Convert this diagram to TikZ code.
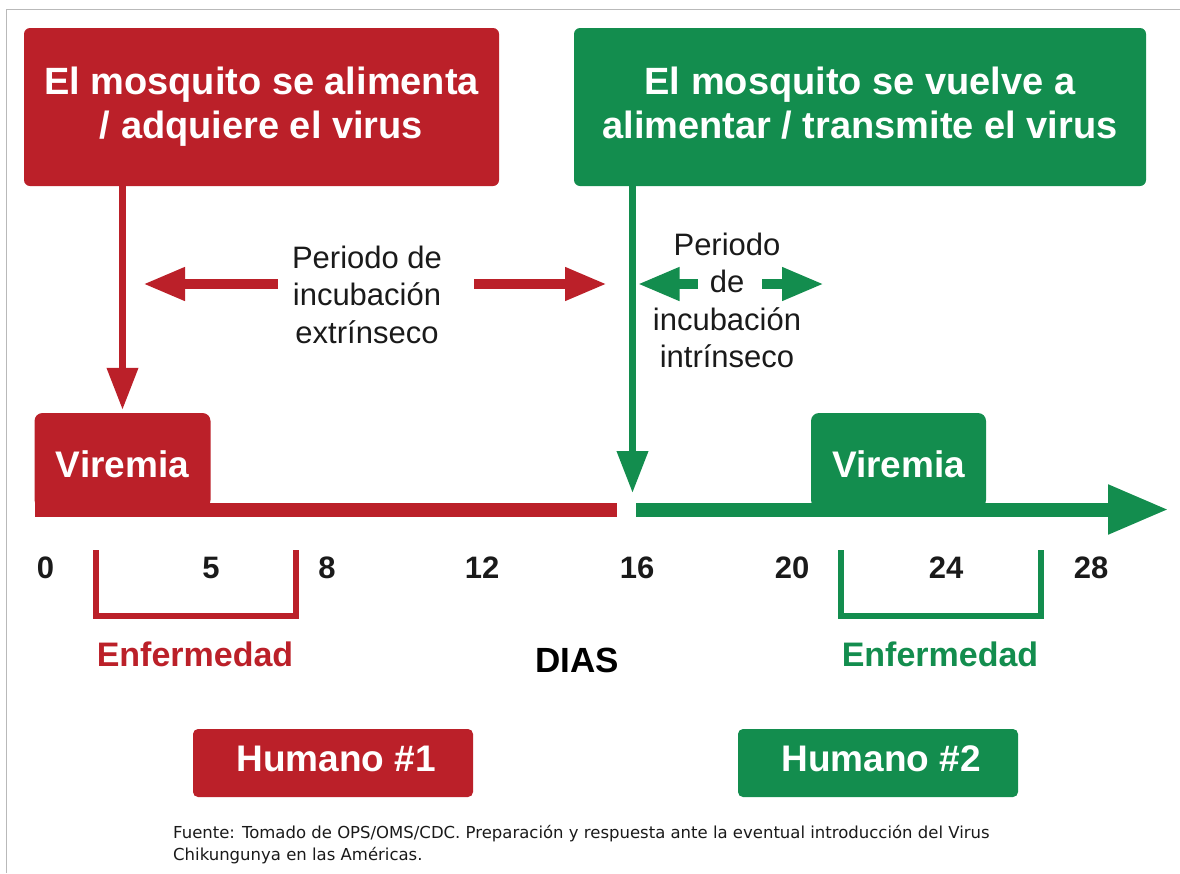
\documentclass[tikz,border=0pt]{standalone}
\usepackage{fontspec}
\setmainfont{Liberation Sans}
\newfontfamily\notefont{DejaVu Sans}
\usetikzlibrary{arrows.meta,calc}
\definecolor{cred}{RGB}{187,32,41}
\definecolor{cgreen}{RGB}{19,141,78}
\definecolor{ctext}{RGB}{26,26,26}
\definecolor{cframe}{RGB}{185,185,185}
\begin{document}
\begin{tikzpicture}[x=1pt,y=-1pt,
  topbox/.style={rounded corners=6pt, minimum height=158pt, inner sep=0pt,
    text=white, align=center, font=\fontsize{38}{44}\selectfont\bfseries},
  vbox/.style={rounded corners=8pt, minimum width=176pt, minimum height=95pt, inner sep=0pt},
  vtext/.style={anchor=base, text=white, inner sep=0pt, font=\fontsize{37}{40}\selectfont\bfseries},
  humbox/.style={rounded corners=5pt, minimum width=280pt, minimum height=68pt, inner sep=0pt},
  humtext/.style={anchor=base, text=white, inner sep=0pt, font=\fontsize{37}{40}\selectfont\bfseries},
  tick/.style={anchor=base, text=ctext, inner sep=0pt, font=\fontsize{31}{34}\selectfont\bfseries},
  enf/.style={anchor=base, inner sep=0pt, font=\fontsize{34}{38}\selectfont\bfseries},
  period/.style={align=center, text=ctext, inner sep=0pt, font=\fontsize{31}{37.6}\selectfont},
  vline/.style={line width=7pt, -{Triangle[length=42pt,width=30pt]}},
  harr/.style={line width=10pt, -{Triangle[length=42pt,width=31pt]}},
  bracket/.style={line width=6pt, line join=miter}
]
\useasboundingbox (0,0) rectangle (1180,873);
% frame
\draw[cframe, line width=1.5pt] (6.5,873) -- (6.5,9.5) -- (1180,9.5);

% top boxes
\node[topbox, fill=cred, minimum width=475pt] (redtop) at (261.5,107)
  {El mosquito se alimenta\\ / adquiere el virus};
\node[topbox, fill=cgreen, minimum width=572pt] (greentop) at (860,107)
  {El mosquito se vuelve a\\ alimentar / transmite el virus\vphantom{q}};

% viremia boxes
\node[vbox, fill=cred] (vir1) at (122.5,460.5) {};
\node[vbox, fill=cgreen, minimum width=175pt] (vir2) at (898.5,460.5) {};
\node[vtext] (vir1t) at (122.5,477) {Viremia};
\node[vtext] (vir2t) at (898.5,477) {Viremia};

% axis
\fill[cred] (34.5,502.5) rectangle (617,516.5);
\coordinate (gstart) at (636,509.5);
\coordinate (gend) at (1169,509.5);
\draw[cgreen, line width=14pt, -{Triangle[length=61pt,width=46pt]}] (gstart) -- (gend);

% vertical arrows
\draw[cred, vline, shorten >=3pt] (redtop.south -| vir1.north) -- (vir1.north);
\coordinate (gtip) at (632.5,493);
\draw[cgreen, vline] (greentop.south -| gtip) -- (gtip);

% extrinsic period
\node[period] (ext) at (367,294.7) {Periodo de\\incubación\\extrínseco};
\coordinate (exLs) at (278,284);
\coordinate (exLt) at (143,284);
\coordinate (exRs) at (474,284);
\coordinate (exRt) at (607,284);
\draw[cred, harr] (exLs) -- (exLt);
\draw[cred, harr] (exRs) -- (exRt);

% intrinsic period
\node[period] (int) at (727,300.5) {Periodo\\de\\incubación\\intrínseco};
\coordinate (inLs) at (698,284);
\coordinate (inLt) at (637.5,284);
\coordinate (inRs) at (762,284);
\coordinate (inRt) at (824,284);
\draw[cgreen, harr] (inLs) -- (inLt);
\draw[cgreen, harr] (inRs) -- (inRt);

% tick labels
\node[tick] (t0) at (45.5,578) {0};
\node[tick] (t5) at (211,578) {5};
\node[tick] (t8) at (327,578) {8};
\node[tick] (t12) at (482,578) {12};
\node[tick] (t16) at (637,578) {16};
\node[tick] (t20) at (792,578) {20};
\node[tick] (t24) at (946,578) {24};
\node[tick] (t28) at (1091,578) {28};

% brackets
\coordinate (b1a) at (96,550);
\coordinate (b1b) at (296,550);
\coordinate (b2a) at (841,550);
\coordinate (b2b) at (1040.5,550);
\draw[cred, bracket] (b1a) -- ++(0,66) -| (b1b);
\draw[cgreen, bracket] (b2a) -- ++(0,66) -| (b2b);

\node[enf, text=cred] (enf1) at (195,666) {Enfermedad};
\node[enf, text=cgreen] (enf2) at (940,666) {Enfermedad};
\node[anchor=base, inner sep=0pt, text=black, font=\fontsize{35}{38}\selectfont\bfseries] (dias) at (577,672) {DIAS};

% humano boxes
\node[humbox, fill=cred] (h1) at (333,763) {};
\node[humbox, fill=cgreen] (h2) at (878,763) {};
\node[humtext] (h1t) at (336,771) {Humano \#1};
\node[humtext] (h2t) at (881,771) {Humano \#2};

% footnote
\node[anchor=north west, align=left, inner sep=0pt, text=ctext,
  font=\notefont\fontsize{16.5}{22}\selectfont] (note) at (173,825)
  {Fuente: Tomado de OPS/OMS/CDC. Preparación y respuesta ante la eventual introducción del Virus\\Chikungunya en las Américas.};
\end{tikzpicture}
\end{document}
